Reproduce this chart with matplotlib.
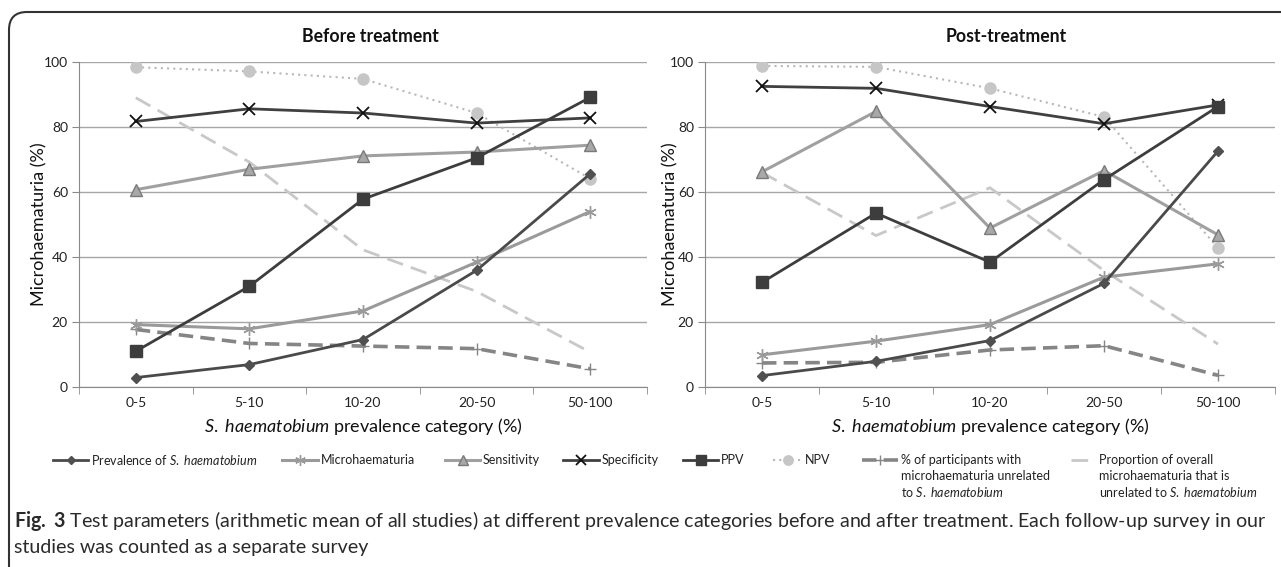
import numpy as np
import matplotlib
matplotlib.use("Agg")
import matplotlib.pyplot as plt
from matplotlib.patches import FancyBboxPatch
from matplotlib.lines import Line2D

plt.rcParams['font.family'] = ['Lato', 'DejaVu Sans']
plt.rcParams['mathtext.fontset'] = 'custom'
plt.rcParams['mathtext.rm'] = 'Lato'
plt.rcParams['mathtext.it'] = 'Lato:italic'
plt.rcParams['mathtext.bf'] = 'Lato:bold'

# categories and values
categories = ["0-5", "5-10", "10-20", "20-50", "50-100"]
y_ticks = [0, 20, 40, 60, 80, 100]

before_prevalence = [2.9, 6.9, 14.6, 35.9, 65.6]
before_micro = [19.2, 17.9, 23.4, 38.4, 54.0]
before_sens = [60.7, 67.0, 71.1, 72.3, 74.4]
before_spec = [81.7, 85.6, 84.3, 81.2, 82.8]
before_ppv = [11.0, 31.0, 57.8, 70.5, 89.1]
before_npv = [98.4, 97.1, 94.8, 84.3, 64.1]
before_unrel = [17.7, 13.4, 12.6, 11.8, 5.6]
before_prop = [89.0, 69.2, 42.2, 29.4, 10.7]

post_prevalence = [3.5, 7.9, 14.3, 31.9, 72.6]
post_micro = [9.9, 14.1, 19.2, 33.8, 37.9]
post_sens = [66.2, 84.8, 48.9, 66.6, 46.8]
post_spec = [92.5, 91.9, 86.3, 81.0, 86.8]
post_ppv = [32.2, 53.5, 38.4, 63.8, 86.3]
post_npv = [98.8, 98.5, 91.9, 83.1, 42.8]
post_unrel = [7.4, 7.6, 11.4, 12.7, 3.6]
post_prop = [66.0, 46.6, 61.3, 35.8, 13.2]

# series styles
styles = {
    "prop": dict(color="#c8c8c8", ls=(0, (6, 3)), lw=2.0, marker=None),
    "unrel": dict(color="#858585", ls=(0, (4, 2)), lw=2.6, marker="+", ms=8, mfc="#858585", mec="#858585"),
    "npv": dict(color="#b8b8b8", ls=(0, (1, 2)), lw=1.5, marker="o", ms=8, mfc="#c6c6c6", mec="#c6c6c6"),
    "sens": dict(color="#a0a0a0", ls="-", lw=2.2, marker="^", ms=8, mfc="#a8a8a8", mec="#7a7a7a"),
    "micro": dict(color="#9a9a9a", ls="-", lw=2.2, marker=(6, 2, 0), ms=9, mfc="#9a9a9a", mec="#9a9a9a"),
    "spec": dict(color="#404040", ls="-", lw=2.0, marker="x", ms=8, mfc="#111111", mec="#111111", mew=1.3),
    "ppv": dict(color="#3d3d3d", ls="-", lw=2.0, marker="s", ms=8, mfc="#3d3d3d", mec="#3d3d3d"),
    "prev": dict(color="#4a4a4a", ls="-", lw=2.0, marker="D", ms=5, mfc="#505050", mec="#505050"),
}

W, H = 1281, 567
fig = plt.figure(figsize=(W / 100, H / 100), dpi=100)


def draw_panel(ax, series, title, title_x, ylabel_x):
    x = np.arange(len(categories))
    for key, vals in series:
        st = dict(styles[key])
        ax.plot(x, vals, color=st.pop("color"), linestyle=st.pop("ls"),
                linewidth=st.pop("lw"), marker=st.pop("marker"),
                markersize=st.pop("ms", 0), markerfacecolor=st.pop("mfc", "none"),
                markeredgecolor=st.pop("mec", "none"), markeredgewidth=st.pop("mew", 1.0),
                zorder=3)
    ax.set_xlim(-0.5, len(categories) - 0.5)
    ax.set_ylim(0, 100)
    ax.set_xticks(x)
    ax.set_xticklabels(categories, fontsize=10, color="#222222")
    ax.set_xticks(np.arange(-0.5, len(categories)), minor=True)
    ax.tick_params(axis="x", which="major", length=0, pad=7)
    ax.tick_params(axis="x", which="minor", length=5, direction="out", color="#8a8a8a")
    ax.set_yticks(y_ticks)
    ax.tick_params(axis="y", length=5, direction="out", color="#8a8a8a",
                   labelsize=10, labelcolor="#222222", pad=3)
    ax.grid(axis="y", color="#a6a6a6", linewidth=1.0, zorder=0)
    for side in ("top", "right"):
        ax.spines[side].set_visible(False)
    for side in ("left", "bottom"):
        ax.spines[side].set_color("#8a8a8a")
    ax.set_ylabel("Microhaematuria (%)", fontsize=13, color="#111111")
    ax.yaxis.set_label_coords(ylabel_x, 0.5)
    ax.set_xlabel(r"$\mathit{S.\ haematobium}$ prevalence category (%)",
                  fontsize=13, color="#111111", labelpad=5)
    fig.text(title_x / W, 1 - 36 / H, title, fontsize=12.7, fontweight="bold",
             ha="center", va="center", color="#111111")


ax1 = fig.add_axes([79 / W, 1 - 387 / H, 568 / W, 325 / H])
ax2 = fig.add_axes([705 / W, 1 - 387 / H, 570 / W, 325 / H])

draw_panel(ax1, [("prop", before_prop), ("unrel", before_unrel), ("npv", before_npv),
                 ("sens", before_sens), ("micro", before_micro), ("spec", before_spec),
                 ("ppv", before_ppv), ("prev", before_prevalence)],
           "Before treatment", 370, -0.056)
draw_panel(ax2, [("prop", post_prop), ("unrel", post_unrel), ("npv", post_npv),
                 ("sens", post_sens), ("micro", post_micro), ("spec", post_spec),
                 ("ppv", post_ppv), ("prev", post_prevalence)],
           "Post-treatment", 1006, -0.046)

# legend drawn in figure pixel space
lg = fig.add_axes([0, 0, 1, 1], zorder=-1)
lg.set_xlim(0, W)
lg.set_ylim(H, 0)
lg.axis("off")

legend_items = [
    ("prev", 53, 88, [r"Prevalence of $\mathit{S.\ haematobium}$"]),
    ("micro", 282, 318, ["Microhaematuria"]),
    ("sens", 445, 480, ["Sensitivity"]),
    ("spec", 563, 599, ["Specificity"]),
    ("ppv", 683, 718, ["PPV"]),
    ("npv", 773, 802, ["NPV"]),
    ("unrel", 862, 898, ["% of participants with", "microhaematuria unrelated",
                         r"to $\mathit{S.\ haematobium}$"]),
    ("prop", 1071, 1096, ["Proportion of overall", "microhaematuria that is",
                          r"unrelated to $\mathit{S.\ haematobium}$"]),
]
row_y = 460
for key, x0, x1, lines in legend_items:
    st = dict(styles[key])
    ms = st.get("ms", 0)
    lg.add_line(Line2D([x0, x1], [row_y, row_y], color=st["color"], linestyle=st["ls"],
                       linewidth=st["lw"]))
    if st["marker"] is not None:
        lg.add_line(Line2D([(x0 + x1) / 2], [row_y], linestyle="none", marker=st["marker"],
                           markersize=ms * 0.85, markerfacecolor=st.get("mfc"),
                           markeredgecolor=st.get("mec"), markeredgewidth=st.get("mew", 1.0)))
    for i, txt in enumerate(lines):
        lg.text(x1 + 3, row_y + i * 16, txt, fontsize=9, va="center", ha="left",
                color="#222222")

# caption
lg.text(14, 521, r"$\mathbf{Fig.\ 3}$ Test parameters (arithmetic mean of all studies) at different "
        "prevalence categories before and after treatment. Each follow-up survey in our",
        fontsize=14.1, va="center", ha="left", color="#2a2a2a")
lg.text(14, 547, "studies was counted as a separate survey", fontsize=14.1,
        va="center", ha="left", color="#2a2a2a")

# rounded frame (right and bottom edges fall outside the picture)
frame = FancyBboxPatch((9, 12), 1320, 580, boxstyle="round,pad=0,rounding_size=18",
                       linewidth=1.5, edgecolor="#333333", facecolor="none")
lg.add_patch(frame)

fig.savefig("out.png", dpi=100)
